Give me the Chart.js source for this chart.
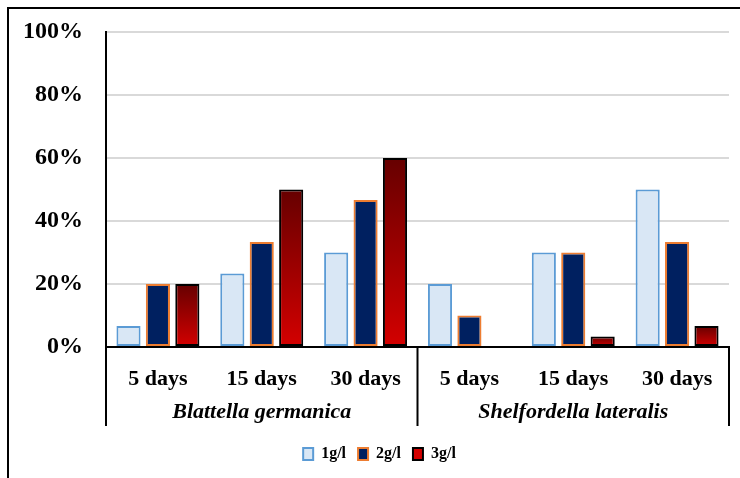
<!DOCTYPE html>
<html>
<head>
<meta charset="utf-8">
<script src="https://cdn.jsdelivr.net/npm/chart.js@4"></script>
<style>
  html, body { margin: 0; padding: 0; background: #fff; }
  #wrap { width: 740px; height: 478px; position: relative; }
</style>
</head>
<body>
<div id="wrap"><canvas id="chart"></canvas></div>
<script>
const categories = ['5 days', '15 days', '30 days', '5 days', '15 days', '30 days'];
const species = ['Blattella germanica', 'Shelfordella lateralis'];
const seriesNames = ['1g/l', '2g/l', '3g/l'];
const dose1 = [6.67, 23.33, 30, 20, 30, 50];
const dose2 = [20, 33.33, 46.67, 10, 30, 33.33];
const dose3 = [20, 50, 60, 0, 3.33, 6.67];
const yTicks = [0, 20, 40, 60, 80, 100];

const serif = "'Liberation Serif', 'Times New Roman', serif";

// dark red at the top of each bar fading to bright red at the base
function redGradient(c) {
  if (c.type !== 'data' || !c.parsed) return '#a00000';
  const y = c.chart.scales.y;
  const top = y.getPixelForValue(c.parsed.y);
  const base = y.getPixelForValue(0);
  if (!isFinite(top) || !isFinite(base) || base - top < 1) return '#c00000';
  const g = c.chart.ctx.createLinearGradient(0, top, 0, base);
  g.addColorStop(0, '#660000');
  g.addColorStop(1, '#d40000');
  return g;
}

const boxLines = {
  id: 'boxLines',
  afterLayout(chart) {
    // legend sits a little right of the canvas centre in the original
    chart.legend.left += 15;
    chart.legend.right += 15;
  },
  afterDraw(chart) {
    const ctx = chart.ctx;
    const area = chart.chartArea;
    const x = chart.scales.x;
    const mid = (x.getPixelForValue(2) + x.getPixelForValue(3)) / 2;
    const bottom = chart.scales.x2.top + 32;
    ctx.save();
    ctx.strokeStyle = '#000';
    ctx.lineWidth = 2;
    ctx.beginPath();
    [area.left, mid, area.right].forEach(px => {
      ctx.moveTo(px, area.bottom);
      ctx.lineTo(px, bottom);
    });
    // outer frame, only left and top edges are inside the picture
    ctx.moveTo(8, chart.height);
    ctx.lineTo(8, 8);
    ctx.lineTo(chart.width, 8);
    ctx.stroke();
    ctx.restore();
  }
};

new Chart(document.getElementById('chart'), {
  type: 'bar',
  data: {
    labels: categories,
    datasets: [
      {
        label: seriesNames[0],
        data: dose1,
        xAxisID: 'x',
        backgroundColor: '#d9e7f5',
        borderColor: '#5b9bd5',
        borderWidth: 2,
        borderSkipped: false
      },
      {
        label: seriesNames[1],
        data: dose2,
        xAxisID: 'x',
        backgroundColor: '#002060',
        borderColor: '#ed7d31',
        borderWidth: 2,
        borderSkipped: false
      },
      {
        label: seriesNames[2],
        data: dose3,
        xAxisID: 'x',
        backgroundColor: redGradient,
        borderColor: '#000',
        borderWidth: 2,
        borderSkipped: false
      }
    ]
  },
  options: {
    responsive: true,
    maintainAspectRatio: false,
    animation: false,
    categoryPercentage: 0.85,
    barPercentage: 0.82,
    layout: { padding: { left: 0, right: 11, top: 32, bottom: 6 } },
    plugins: {
      tooltip: { enabled: false },
      legend: {
        position: 'bottom',
        labels: {
          color: '#000',
          font: { family: serif, size: 16, weight: 'bold' },
          boxWidth: 10,
          boxHeight: 12,
          padding: 12
        }
      }
    },
    scales: {
      y: {
        min: 0,
        max: 100,
        afterBuildTicks: s => { s.ticks = yTicks.map(v => ({ value: v })); },
        afterFit: s => {
          s.width = 106;
          s.paddingTop = 0;
          s.paddingBottom = 0;
        },
        ticks: {
          color: '#000',
          padding: 23,
          font: { family: serif, size: 24, weight: 'bold' },
          callback: v => v + '%'
        },
        grid: { color: '#d9d9d9', lineWidth: 2, drawTicks: false },
        border: { display: true, color: '#000', width: 2 }
      },
      x: {
        position: 'bottom',
        afterFit: s => { s.height = 47; },
        ticks: {
          color: '#000',
          padding: 19,
          maxRotation: 0,
          autoSkip: false,
          font: { family: serif, size: 22, weight: 'bold' }
        },
        grid: { display: false, drawTicks: false },
        border: { display: true, color: '#000', width: 2 }
      },
      x2: {
        type: 'category',
        position: 'bottom',
        labels: species,
        offset: true,
        afterFit: s => { s.height = 40; },
        ticks: {
          color: '#000',
          padding: 5,
          maxRotation: 0,
          autoSkip: false,
          font: { family: serif, size: 22, weight: 'bold', style: 'italic' }
        },
        grid: { display: false, drawTicks: false },
        border: { display: false }
      }
    }
  },
  plugins: [boxLines]
});
</script>
</body>
</html>
